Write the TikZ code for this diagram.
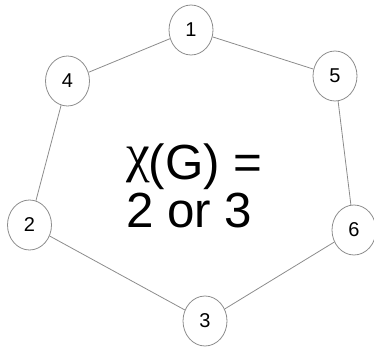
\documentclass[tikz,border=0pt]{standalone}
\usepackage{fontspec}
\setmainfont{Liberation Sans}
\newfontfamily\chifont{Liberation Serif}
\usetikzlibrary{shapes.geometric}
\begin{document}
\begin{tikzpicture}[x=0.75pt,y=-0.75pt,
  vtx/.style={ellipse,draw=gray!90,line width=0.6pt,minimum width=33pt,minimum height=37.5pt,inner sep=0pt,font=\fontsize{15}{18}\selectfont},
  edge/.style={draw=gray!90,line width=0.6pt},
  big/.style={inner sep=0pt,anchor=base west,font=\fontsize{37}{40}\selectfont}]
\useasboundingbox (0,0) rectangle (374,349);
\node[vtx] (n1) at (191,30) {1};
\node[vtx] (n4) at (67.5,81) {4};
\node[vtx] (n5) at (335,76) {5};
\node[vtx] (n2) at (29.5,225) {2};
\node[vtx] (n6) at (354,230) {6};
\node[vtx] (n3) at (205,321) {3};
\draw[edge] (n1) -- (n4);
\draw[edge] (n1) -- (n5);
\draw[edge] (n4) -- (n2);
\draw[edge] (n5) -- (n6);
\draw[edge] (n2) -- (n3);
\draw[edge] (n6) -- (n3);
\node[big] (t1) at (126,179) {\raisebox{6pt}{\chifont\fontsize{40}{40}\selectfont χ}\kern-1pt(G) =};
\node[big] (t2) at (126,227) {2 or 3};
\end{tikzpicture}
\end{document}
